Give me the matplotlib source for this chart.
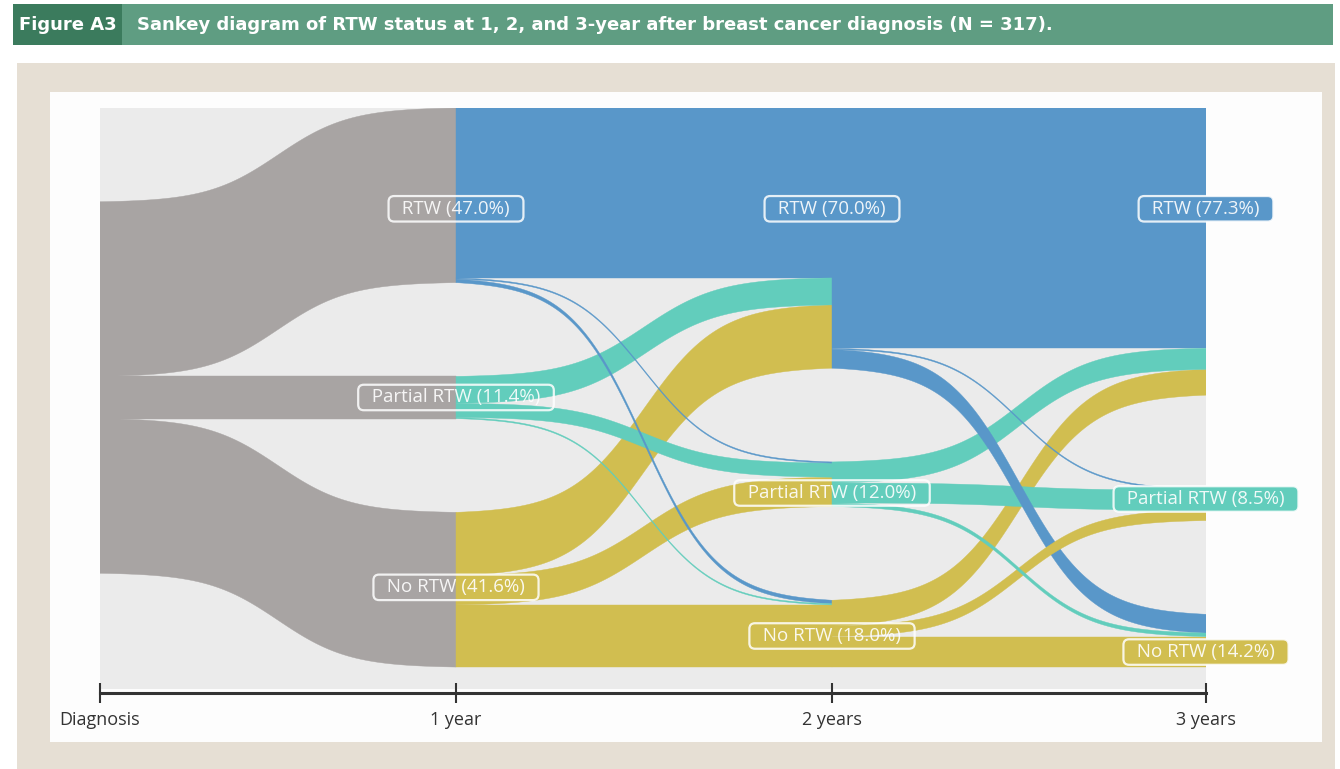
import matplotlib.pyplot as plt
from matplotlib.patches import Rectangle
from matplotlib import font_manager
import numpy as np

W, H = 1340, 769

# ---- data (number of women, N = 317) ----
statuses = ["RTW", "Partial RTW", "No RTW"]
n_total = 317
diag_to_year1 = [[149, 36, 132]]
year1_to_year2 = [[145, 1, 3],     # from RTW
                  [23, 12, 1],     # from Partial RTW
                  [54, 25, 53]]    # from No RTW
year2_to_year3 = [[205, 1, 16],
                  [18, 17, 3],
                  [22, 9, 26]]
time_labels = ["Diagnosis", "1 year", "2 years", "3 years"]
title = "Sankey diagram of RTW status at 1, 2, and 3-year after breast cancer diagnosis (N = 317)."

# ---- style / layout ----
GRAY = "#a8a4a3"
COLORS = ["#5997c9", "#62cdbc", "#d1be50"]
COL_X = [100, 456, 832, 1206]      # column positions (px)
TOP, AXIS_Y, BG_BOTTOM = 108, 693, 689
PX_PER = 1.172                      # px per person
GAP = 80                            # gap between nodes (people units)
LABEL_Y = [[86, 247, 409], [86, 328.5, 450.5], [86, 333.6, 464.2]]
FONT = ["Open Sans", "DejaVu Sans"]

installed = {f.name for f in font_manager.fontManager.ttflist}
narrow = [n for n in ["Liberation Sans Narrow", "DejaVu Sans Condensed"] if n in installed]
TITLE_FONT = narrow[:1] + ["DejaVu Sans"]
TITLE_SIZE = 15 if narrow else 13


def px_rect(fig, x0, y0, x1, y1, color, z):
    fig.add_artist(Rectangle((x0 / W, 1 - y1 / H), (x1 - x0) / W, (y1 - y0) / H,
                             transform=fig.transFigure, facecolor=color,
                             edgecolor="none", zorder=z))


def band(ax, x0, x1, y0, y1, w, color):
    u = np.linspace(0, 1, 160)
    k = 10.0
    s = 1 / (1 + np.exp(-k * (u - 0.5)))
    s = (s - s[0]) / (s[-1] - s[0])
    xs = x0 + (x1 - x0) * u
    top = y0 + (y1 - y0) * s
    ax.fill(np.r_[xs, xs[::-1]], np.r_[top, top[::-1] + w],
            facecolor=color, edgecolor=color, lw=0.3, zorder=2)


def node_tops(counts):
    tops, y = [], 0
    for c in counts:
        tops.append(y)
        y += c + GAP
    return tops


def draw_links(ax, x0, x1, src_tops, dst_tops, matrix, colors):
    out_off, in_off = list(src_tops), list(dst_tops)
    links = []
    for i, row in enumerate(matrix):
        for j, v in enumerate(row):
            links.append((v, out_off[i], in_off[j], colors[i]))
            out_off[i] += v
            in_off[j] += v
    for v, ys, yt, c in sorted(links, key=lambda l: -l[0]):
        band(ax, x0, x1, ys, yt, v, c)


year1 = [sum(c) for c in zip(*diag_to_year1)]
year2 = [sum(c) for c in zip(*year1_to_year2)]
year3 = [sum(c) for c in zip(*year2_to_year3)]
span = sum(year1) + 2 * GAP

fig = plt.figure(figsize=(W / 100, H / 100), dpi=100)
fig.patch.set_facecolor("white")

# frame + title bar
px_rect(fig, 17, 63, 1335, 769, "#e6dfd4", -3)
px_rect(fig, 50, 92, 1322, 742, "#fdfdfd", -2)
px_rect(fig, 13, 4, 1333, 45, "#5f9d82", 1)
px_rect(fig, 13, 4, 122, 45, "#3b7b5d", 1)
fig.text(68 / W, 1 - 25 / H, "Figure A3", ha="center", va="center", color="white",
         fontsize=TITLE_SIZE, fontweight="bold", family=TITLE_FONT, zorder=2)
fig.text(137 / W, 1 - 25 / H, title, ha="left", va="center", color="white",
         fontsize=TITLE_SIZE, fontweight="bold", family=TITLE_FONT, zorder=2)

ax = fig.add_axes([COL_X[0] / W, 1 - AXIS_Y / H, (COL_X[-1] - COL_X[0]) / W, (AXIS_Y - TOP) / H])
ax.set_xlim(COL_X[0], COL_X[-1])
ax.set_ylim((AXIS_Y - TOP) / PX_PER, 0)
ax.patch.set_visible(False)
ax.add_patch(Rectangle((COL_X[0], 0), COL_X[-1] - COL_X[0], (BG_BOTTOM - TOP) / PX_PER,
                       facecolor="#ebebeb", edgecolor="none", zorder=0))

t1, t2, t3 = node_tops(year1), node_tops(year2), node_tops(year3)
draw_links(ax, COL_X[0], COL_X[1], [(span - n_total) / 2], t1, diag_to_year1, [GRAY])
draw_links(ax, COL_X[1], COL_X[2], t1, t2, year1_to_year2, COLORS)
draw_links(ax, COL_X[2], COL_X[3], t2, t3, year2_to_year3, COLORS)

# node labels
for k, counts in enumerate([year1, year2, year3]):
    for i, c in enumerate(counts):
        txt = "  %s (%.1f%%)  " % (statuses[i], 100 * c / n_total)
        fc = COLORS[i] if k == 2 else "none"
        ax.text(COL_X[k + 1], LABEL_Y[k][i], txt, ha="center", va="center",
                fontsize=13.5, family=FONT, color=(1, 1, 1, 0.9), zorder=5,
                bbox=dict(boxstyle="round,pad=0.2,rounding_size=0.3", fc=fc,
                          ec=(1, 1, 1, 0.85), lw=1.6))

# time axis
for side in ["top", "left", "right"]:
    ax.spines[side].set_visible(False)
ax.spines["bottom"].set_color("#333333")
ax.spines["bottom"].set_linewidth(2.2)
ax.set_yticks([])
ax.set_xticks(COL_X, time_labels)
ax.tick_params(axis="x", direction="inout", length=14, width=1.5, color="#333333",
               labelsize=13, labelcolor="#333333", pad=6)
for lab in ax.get_xticklabels():
    lab.set_family(FONT)

fig.savefig("out.png", dpi=100, facecolor=fig.get_facecolor())
